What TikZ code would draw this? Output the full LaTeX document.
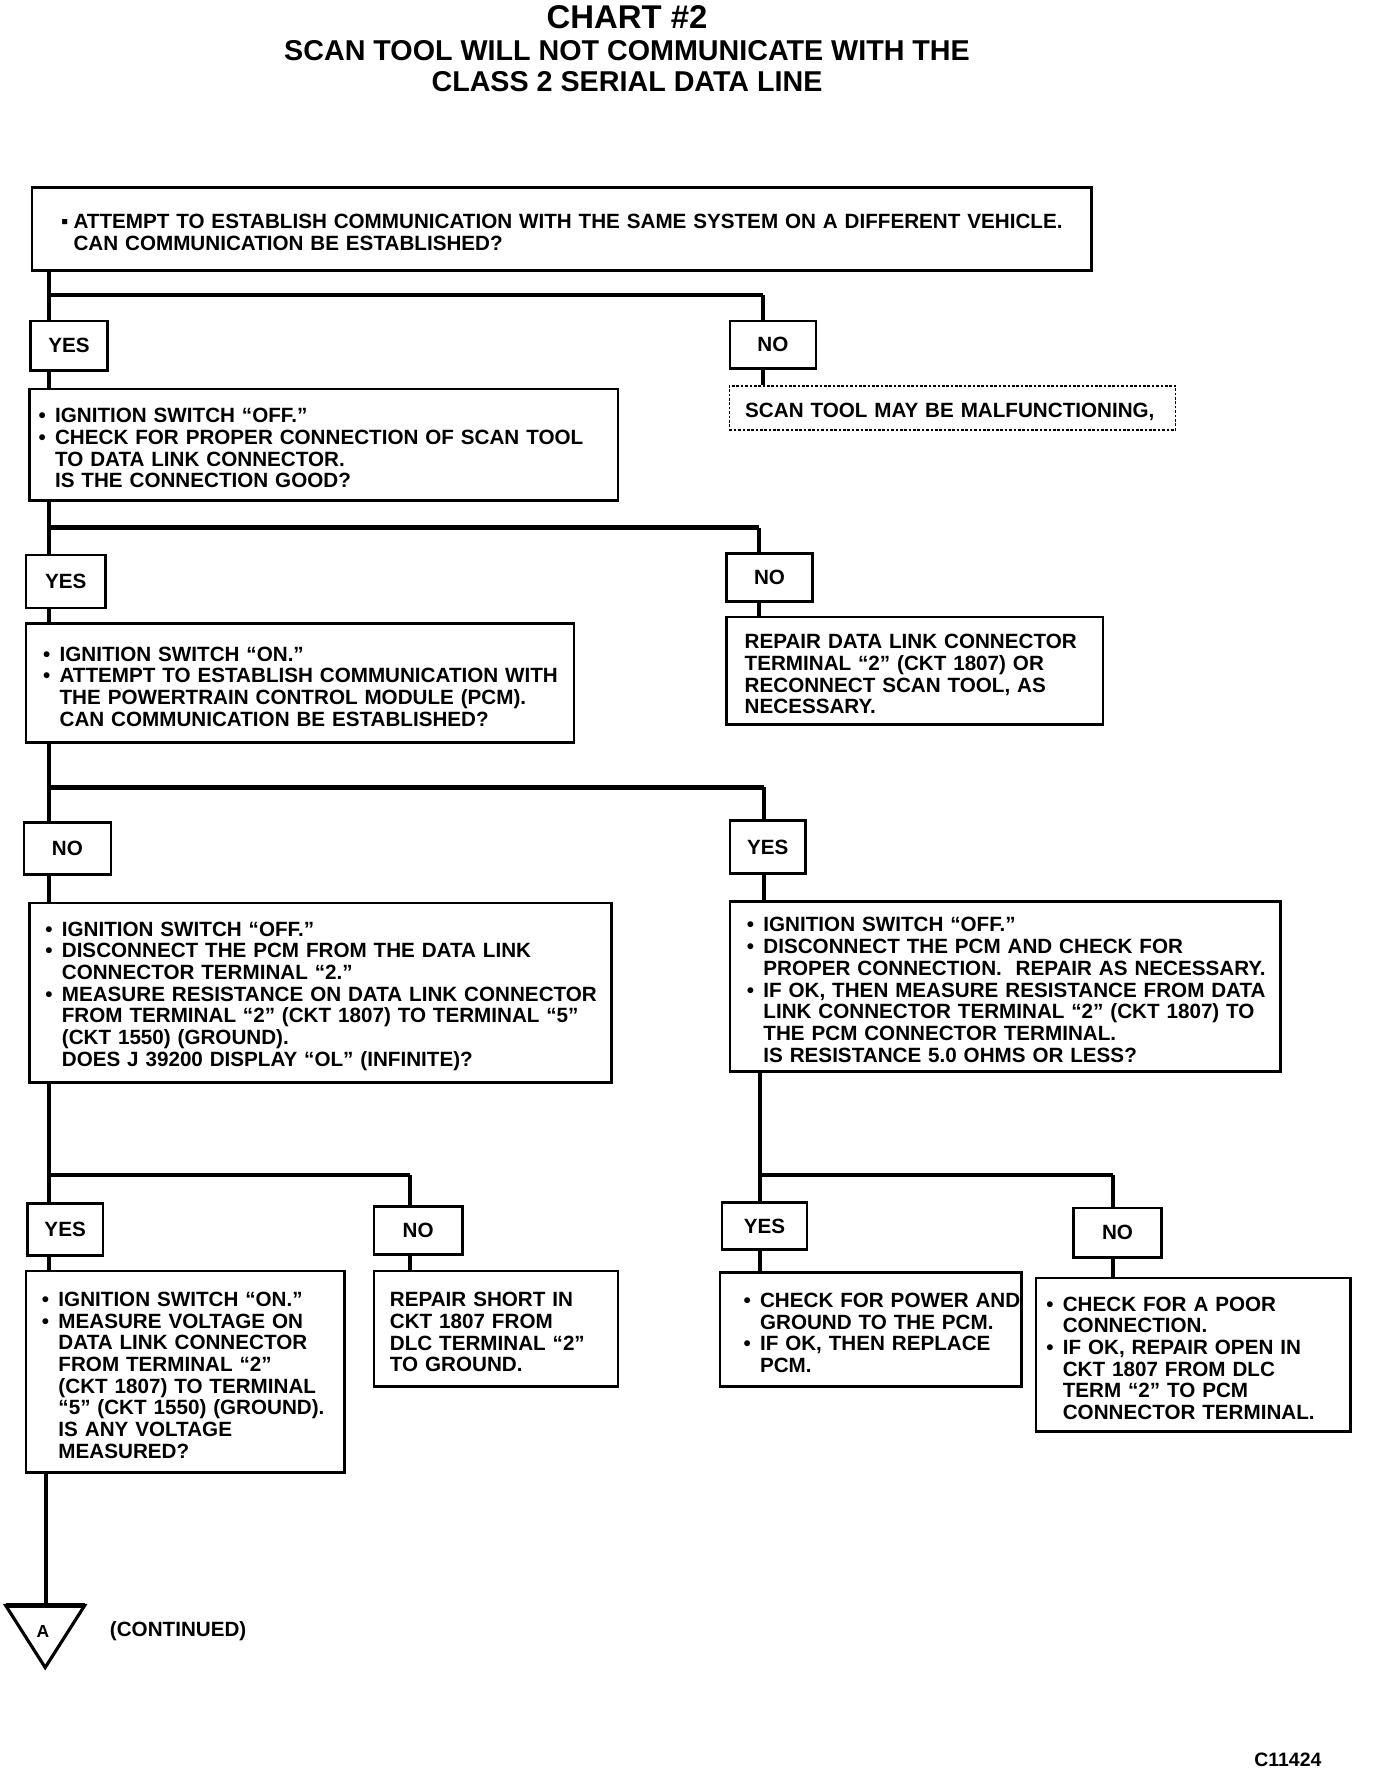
\documentclass[tikz,border=0pt]{standalone}
\usepackage{fontspec}
\setmainfont{Liberation Sans}
\usepackage{tikz}

\newcommand{\itm}[1][0.8em]{\makebox[#1][l]{•}}
\newcommand{\sqitm}[1][0.6em]{\makebox[#1][l]{▪}}
\newcommand{\ind}[1][0.8em]{\hspace*{#1}}

\tikzset{
  bx/.code n args={3}{%
    \pgfmathsetlengthmacro\bxtw{(#1-2*#2)*0.0227cm}%
    \pgfmathsetlengthmacro\bxxs{#2*0.0227cm}%
    \pgfmathsetlengthmacro\bxht{#3*0.0227cm}%
    \edef\bxopts{text width=\bxtw,inner xsep=\bxxs,minimum height=\bxht}%
    \expandafter\pgfkeysalso\expandafter{\bxopts}},
  lbl/.code 2 args={%
    \pgfmathsetlengthmacro\lbw{#1*0.0227cm}%
    \pgfmathsetlengthmacro\lbh{#2*0.0227cm}%
    \edef\lbopts{minimum width=\lbw,minimum height=\lbh}%
    \expandafter\pgfkeysalso\expandafter{\lbopts}},
  box/.style={draw, line width=1.5pt, anchor=north west, inner ysep=0pt,
    font=\fontsize{11.8}{12.4}\selectfont\bfseries,
    execute at begin node={\rightskip=-3em plus 1fil\relax\rule{0pt}{12.2pt}}},
  dotbox/.style={box, draw, densely dotted, line width=0.8pt},
  tag/.style={draw, line width=1.5pt, anchor=north west, inner sep=0pt,
    font=\fontsize{11.8}{14}\selectfont\bfseries},
  line/.style={line width=2.3pt},
  bar/.style={line width=2.6pt},
  title/.style={font=\fontsize{18.8}{20}\selectfont\bfseries},
  subtitle/.style={align=center, font=\fontsize{16.4}{17.5}\selectfont\bfseries},
  note/.style={inner sep=0pt, font=\fontsize{11.8}{14}\selectfont\bfseries},
}

\begin{document}
\begin{tikzpicture}[x=0.0227cm, y=-0.0227cm]
  \useasboundingbox (0,0) rectangle (1218,1568.5);

  \node[title] (head) at (555,15) {CHART \#2};
  \node[subtitle] (sub) at (555,58.5) {SCAN TOOL WILL NOT COMMUNICATE WITH THE\\CLASS 2 SERIAL DATA LINE};

  \node[box, bx={938}{26}{73}] (B1) at (27,165) {\sqitm ATTEMPT TO ESTABLISH COMMUNICATION WITH THE SAME SYSTEM ON A DIFFERENT VEHICLE.\\\ind[0.6em]CAN COMMUNICATION BE ESTABLISHED?};

  \node[tag, lbl={68}{44}] (Y1) at (26,283) {YES};
  \node[tag, lbl={76}{42}] (N1) at (645,283) {NO};

  \node[box, bx={521}{8}{99}] (B2) at (25,343) {\itm IGNITION SWITCH “OFF.”\\\itm CHECK FOR PROPER CONNECTION OF SCAN TOOL\\\ind TO DATA LINK CONNECTOR.\\\ind IS THE CONNECTION GOOD?};
  \node[dotbox, bx={395}{14}{39}] (D1) at (645,341) {SCAN TOOL MAY BE MALFUNCTIONING,};

  \node[tag, lbl={70}{47}] (Y2) at (22,490) {YES};
  \node[tag, lbl={76}{42}] (N2) at (642,489) {NO};

  \node[box, bx={485}{15}{105}] (B3) at (22,551) {\itm IGNITION SWITCH “ON.”\\\itm ATTEMPT TO ESTABLISH COMMUNICATION WITH\\\ind THE POWERTRAIN CONTROL MODULE (PCM).\\\ind CAN COMMUNICATION BE ESTABLISHED?};
  \node[box, bx={333}{16}{95}] (R2) at (642,545) {REPAIR DATA LINK CONNECTOR\\TERMINAL “2” (CKT 1807) OR\\RECONNECT SCAN TOOL, AS\\NECESSARY.};

  \node[tag, lbl={77}{46}] (N3) at (20,727) {NO};
  \node[tag, lbl={67}{47}] (Y3) at (645,725) {YES};

  \node[box, bx={515}{14}{159}] (B4L) at (25,798) {\itm IGNITION SWITCH “OFF.”\\\itm DISCONNECT THE PCM FROM THE DATA LINK\\\ind CONNECTOR TERMINAL “2.”\\\itm MEASURE RESISTANCE ON DATA LINK CONNECTOR\\\ind FROM TERMINAL “2” (CKT 1807) TO TERMINAL “5”\\\ind (CKT 1550) (GROUND).\\\ind DOES J 39200 DISPLAY “OL” (INFINITE)?};
  \node[box, bx={487}{15}{150}] (B4R) at (645,797) {\itm IGNITION SWITCH “OFF.”\\\itm DISCONNECT THE PCM AND CHECK FOR\\\ind PROPER CONNECTION.~ REPAIR AS NECESSARY.\\\itm IF OK, THEN MEASURE RESISTANCE FROM DATA\\\ind LINK CONNECTOR TERMINAL “2” (CKT 1807) TO\\\ind THE PCM CONNECTOR TERMINAL.\\\ind IS RESISTANCE 5.0 OHMS OR LESS?};

  \node[tag, lbl={67}{46}] (Y4L) at (23,1064) {YES};
  \node[tag, lbl={78}{42}] (N4L) at (330,1067) {NO};
  \node[tag, lbl={75}{42}] (Y4R) at (638,1063) {YES};
  \node[tag, lbl={78}{44}] (N4R) at (949,1068) {NO};

  \node[box, bx={282}{14}{178}] (B5L) at (22,1124) {\itm IGNITION SWITCH “ON.”\\\itm MEASURE VOLTAGE ON\\\ind DATA LINK CONNECTOR\\\ind FROM TERMINAL “2”\\\ind (CKT 1807) TO TERMINAL\\\ind “5” (CKT 1550) (GROUND).\\\ind IS ANY VOLTAGE\\\ind MEASURED?};
  \node[box, bx={216}{14}{102}] (B5M) at (330,1124) {REPAIR SHORT IN\\CKT 1807 FROM\\DLC TERMINAL “2”\\TO GROUND.};
  \node[box, bx={267}{21}{101}] (B5R1) at (636,1125) {\itm CHECK FOR POWER AND\\\ind GROUND TO THE PCM.\\\itm IF OK, THEN REPLACE\\\ind PCM.};
  \node[box, bx={278}{9}{136}] (B5R2) at (916,1130) {\itm CHECK FOR A POOR\\\ind CONNECTION.\\\itm IF OK, REPAIR OPEN IN\\\ind CKT 1807 FROM DLC\\\ind TERM “2” TO PCM\\\ind CONNECTOR TERMINAL.};

  \coordinate (tl) at (5,1421);
  \coordinate (tr) at (75,1421);
  \coordinate (tb) at (40,1476);
  \coordinate (atop) at (41,1421);
  \draw[line width=1.8pt, line join=miter] (tl) -- (tr) -- (tb) -- cycle;
  \draw[bar] (tl) -- (tr);
  \node[font=\fontsize{10}{12}\selectfont\bfseries, inner sep=0pt] (A) at (38,1444) {A};
  \node[note, anchor=west] (cont) at (97,1444) {(CONTINUED)};
  \node[inner sep=0pt, font=\fontsize{11.1}{13}\selectfont\bfseries] (code) at (1140,1558) {C11424};

  \coordinate (s1) at (43,261);
  \coordinate (t1) at (675,261);
  \coordinate (s2) at (43,467);
  \coordinate (t2) at (672,467);
  \coordinate (s3) at (43,697);
  \coordinate (t3) at (676,697);
  \coordinate (s4) at (43,1040);
  \coordinate (t4) at (363,1040);
  \coordinate (s5) at (673,1040);
  \coordinate (t5) at (985,1040);

  \draw[line] (B1.south -| s1) -- (Y1.north -| s1);
  \draw[bar] (s1) -- (t1);
  \draw[line] (t1) -- (N1.north -| t1);
  \draw[line] (Y1.south -| s1) -- (B2.north -| s1);
  \draw[line] (N1.south -| t1) -- (D1.north -| t1);

  \draw[line] (B2.south -| s2) -- (Y2.north -| s2);
  \draw[bar] (s2) -- (t2);
  \draw[line] (t2) -- (N2.north -| t2);
  \draw[line] (Y2.south -| s2) -- (B3.north -| s2);
  \draw[line] (N2.south -| t2) -- (R2.north -| t2);

  \draw[line] (B3.south -| s3) -- (N3.north -| s3);
  \draw[bar] (s3) -- (t3);
  \draw[line] (t3) -- (Y3.north -| t3);
  \draw[line] (N3.south -| s3) -- (B4L.north -| s3);
  \draw[line] (Y3.south -| t3) -- (B4R.north -| t3);

  \draw[line] (B4L.south -| s4) -- (Y4L.north -| s4);
  \draw[bar] (s4) -- (t4);
  \draw[line] (t4) -- (N4L.north -| t4);
  \draw[line] (Y4L.south -| s4) -- (B5L.north -| s4);
  \draw[line] (N4L.south -| t4) -- (B5M.north -| t4);

  \draw[line] (B4R.south -| s5) -- (Y4R.north -| s5);
  \draw[bar] (s5) -- (t5);
  \draw[line] (t5) -- (N4R.north -| t5);
  \draw[line] (Y4R.south -| s5) -- (B5R1.north -| s5);
  \draw[line] (N4R.south -| t5) -- (B5R2.north -| t5);

  \draw[line] (B5L.south -| atop) -- (atop);
\end{tikzpicture}
\end{document}
